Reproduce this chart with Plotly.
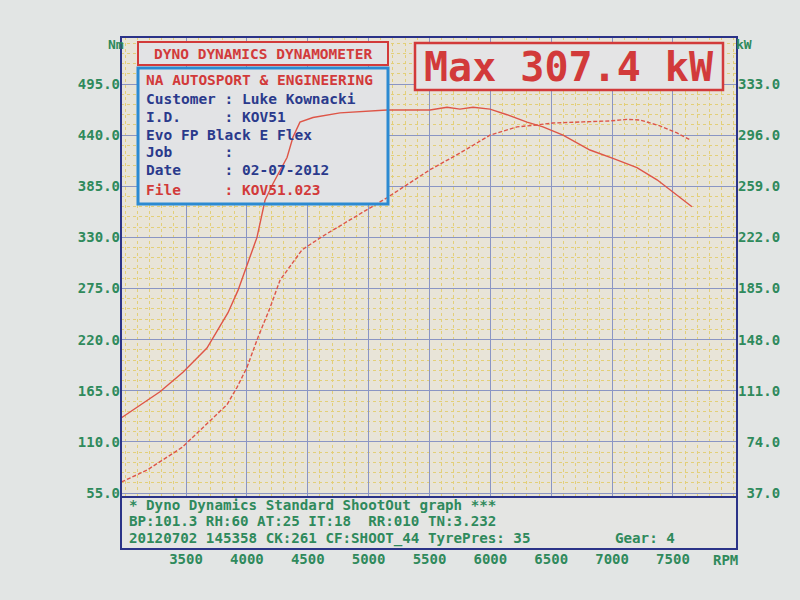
import plotly.graph_objects as go

# ---------------- data (read from the dyno sheet) ----------------
rpm_torque = [2970, 3286, 3475, 3672, 3845, 3927, 4009, 4083, 4149, 4215, 4330, 4379,
              4436, 4543, 4765, 5151, 5504, 5644, 5750, 5857, 5997, 6137, 6301, 6432,
              6597, 6818, 7007, 7204, 7369, 7500, 7656]
torque_nm = [136, 164, 185, 211, 249, 273, 303, 330, 370, 388, 416, 438,
             454, 459, 464, 467, 467, 470, 468, 470, 468, 462, 454, 449,
             440, 424, 415, 405, 392, 379, 363]

rpm_power = [2970, 3180, 3467, 3672, 3837, 3919, 4001, 4091, 4190, 4272, 4453, 4625,
             4913, 5151, 5504, 5750, 5997, 6219, 6383, 6514, 6761, 6982, 7122, 7229,
             7393, 7533, 7640]
power_kw = [45, 53.6, 70, 87, 101, 113.5, 128, 149.6, 171, 191, 213, 223,
            238.4, 250.7, 271, 283, 296, 302, 303.4, 304.8, 305.6, 306.3, 307.4, 307,
            302.7, 297.6, 292.6]

rpm_ticks = [3500, 4000, 4500, 5000, 5500, 6000, 6500, 7000, 7500]
nm_ticks = [55, 110, 165, 220, 275, 330, 385, 440, 495]
kw_ticks = [37, 74, 111, 148, 185, 222, 259, 296, 333]

header_title = "DYNO DYNAMICS DYNAMOMETER"
shop_name = "NA AUTOSPORT & ENGINEERING"
info_lines = ["Customer : Luke Kownacki", "I.D.     : KOV51", "Evo FP Black E Flex",
              "Job      :", "Date     : 02-07-2012"]
file_line = "File     : KOV51.023"
max_text = "Max 307.4 kW"
footer_lines = ["* Dyno Dynamics Standard ShootOut graph ***",
                "BP:101.3 RH:60 AT:25 IT:18  RR:010 TN:3.232",
                "20120702 145358 CK:261 CF:SHOOT_44 TyrePres: 35"]
gear_text = "Gear: 4"

# ---------------- layout geometry ----------------
W, H = 800, 600
L, R, T, B = 121, 63, 37, 51
PW, PH = W - L - R, H - T - B

X_RANGE = [2966, 8026]
NM_RANGE = [-5.2, 545.6]
KW_RANGE = [v * 370 / 550 for v in NM_RANGE]


def px(x):
    return (x - L) / PW


def py(y):
    return (H - B - y) / PH


def dx(x):  # pixel -> rpm (for decoration only)
    return X_RANGE[0] + px(x) * (X_RANGE[1] - X_RANGE[0])


def dy(y):  # pixel -> Nm (for decoration only)
    return NM_RANGE[0] + py(y) * (NM_RANGE[1] - NM_RANGE[0])


GREEN = "#2f8a5c"
NAVY = "#2b3388"
RED = "#d23a3a"
BLUE_TXT = "#2a3a8c"
BOX_BLUE = "#2b8ad2"
CURVE = "#de5547"
BOX_FILL = "#e2e3e5"
MONO = "DejaVu Sans Mono, Liberation Mono, monospace"

fig = go.Figure()
# info box background (below the curves, above the grid)
bx0, bx1, by0, by1 = dx(138), dx(388), dy(204), dy(68)
fig.add_trace(go.Scatter(x=[bx0, bx1, bx1, bx0, bx0], y=[by0, by0, by1, by1, by0],
                         mode="lines", fill="toself", fillcolor=BOX_FILL,
                         line=dict(width=0), hoverinfo="skip", yaxis="y"))
fig.add_trace(go.Scatter(x=rpm_torque, y=torque_nm, mode="lines", name="Torque (Nm)",
                         line=dict(color=CURVE, width=1.4), yaxis="y"))
fig.add_trace(go.Scatter(x=rpm_power, y=power_kw, mode="lines", name="Power (kW)",
                         line=dict(color=CURVE, width=1.4, dash="4px,2px"), yaxis="y2"))

fig.update_layout(
    width=W, height=H,
    margin=dict(l=L, r=R, t=T, b=B),
    paper_bgcolor="#e2e5e4",
    plot_bgcolor="#e8e4d8",
    showlegend=False,
    xaxis=dict(range=X_RANGE, tickvals=rpm_ticks, ticktext=[str(v) for v in rpm_ticks],
               showgrid=True, gridcolor="#8a95c4", gridwidth=1, zeroline=False,
               ticks="", showline=False,
               tickfont=dict(family=MONO, size=14, color=GREEN, weight="bold"),
               minor=dict(tick0=3000, dtick=100, showgrid=True, gridcolor="#e3cf78",
                          griddash="dot", gridwidth=1)),
    yaxis=dict(range=NM_RANGE, tickvals=nm_ticks, ticktext=[f"{v:.1f}" for v in nm_ticks],
               showgrid=True, gridcolor="#8a95c4", gridwidth=1, zeroline=False,
               ticks="", showline=False,
               tickfont=dict(family=MONO, size=14, color=GREEN, weight="bold"),
               minor=dict(tick0=0, dtick=11, showgrid=True, gridcolor="#e3cf78",
                          griddash="dot", gridwidth=1)),
    yaxis2=dict(range=KW_RANGE, overlaying="y", side="right", tickvals=kw_ticks,
                ticktext=[f"{v:.1f}".rjust(5) for v in kw_ticks],
                showgrid=False, zeroline=False, ticks="", showline=False,
                tickfont=dict(family=MONO, size=14, color=GREEN, weight="bold")),
)

shapes = []
shapes.append(dict(type="rect", xref="paper", yref="paper", layer="above",
                   x0=px(138), x1=px(388), y0=py(65), y1=py(42),
                   fillcolor=BOX_FILL, line=dict(color=RED, width=2)))
shapes.append(dict(type="rect", xref="paper", yref="paper", layer="above",
                   x0=px(138), x1=px(388), y0=py(204), y1=py(68),
                   line=dict(color=BOX_BLUE, width=3)))
shapes.append(dict(type="rect", xref="paper", yref="paper", layer="above",
                   x0=px(415), x1=px(723), y0=py(90), y1=py(43),
                   fillcolor="#e4e4e5", line=dict(color=RED, width=2.5)))
shapes.append(dict(type="rect", xref="paper", yref="paper", layer="above",
                   x0=0, x1=1, y0=0, y1=py(497),
                   fillcolor="#e4e5e3", line=dict(color=NAVY, width=2)))
shapes.append(dict(type="rect", xref="paper", yref="paper", layer="above",
                   x0=0, x1=1, y0=0, y1=1, line=dict(color=NAVY, width=2)))
fig.update_layout(shapes=shapes)

ann = []


def text(x, y, s, color, size, xanchor="left"):
    ann.append(dict(x=px(x), y=py(y), xref="paper", yref="paper", text=s,
                    showarrow=False, xanchor=xanchor, yanchor="middle",
                    font=dict(family=MONO, size=size, color=color, weight="bold")))


text(263, 54, header_title, RED, 14.5, "center")
text(144, 80, shop_name, RED, 14.5)
for i, line in enumerate(info_lines):
    text(144, [99, 117, 135, 152, 170][i], line.replace(" ", "&nbsp;"), BLUE_TXT, 14.5)
text(144, 190, file_line.replace(" ", "&nbsp;"), RED, 14.5)
text(569, 67, max_text, RED, 40, "center")
for i, line in enumerate(footer_lines):
    text(127, [505, 521, 538][i], line.replace(" ", "&nbsp;"), GREEN, 14.2)
text(613, 538, gear_text.replace(" ", "&nbsp;"), GREEN, 14.2)
text(116, 44, "Nm", GREEN, 13, "center")
text(744, 44, "kW", GREEN, 13, "center")
text(725, 560, "RPM", GREEN, 14, "center")
fig.update_layout(annotations=ann)

fig.write_html("out.html", config={"displayModeBar": False},
               post_script="document.body.style.margin='0';")
